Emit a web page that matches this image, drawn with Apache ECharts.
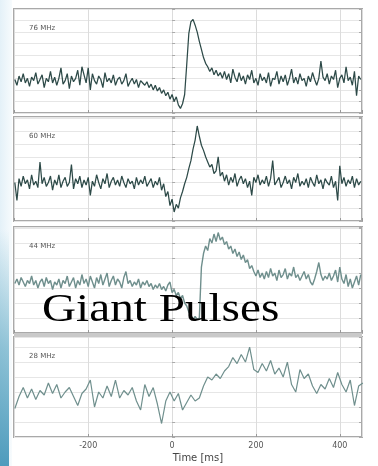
<!DOCTYPE html>
<html>
<head>
<meta charset="utf-8">
<script src="https://cdn.jsdelivr.net/npm/echarts@6/dist/echarts.min.js"></script>
<style>html,body{margin:0;padding:0;background:#fff}#c{width:378px;height:466px}</style>
</head>
<body>
<div id="c"></div>
<script>
// ---- data ----
const panelLabels = ['76 MHz', '60 MHz', '44 MHz', '28 MHz'];
const xTickLabelsShown = [-200, 0, 200, 400];
const timeMin = -377, timeMax = 453;
const sampleStart = -375;
const stepFine = 5;    // ms, panels 1-3
const stepCoarse = 10; // ms, panel 4

const p1Values = [
  2.9, 2.4, 3.2, 2.7, 3.4, 2.6, 3.0, 2.3, 3.1, 2.8,
  3.5, 2.5, 2.9, 3.3, 2.2, 3.0, 2.7, 3.6, 2.6, 3.1,
  2.4, 3.0, 3.9, 2.5, 2.8, 3.4, 2.1, 3.2, 2.7, 3.0,
  3.7, 2.4, 4.0, 3.3, 2.6, 3.9, 2.0, 3.4, 2.8, 2.5,
  3.2, 2.9, 2.2, 3.5, 2.7, 3.0, 2.6, 3.3, 2.4, 2.9,
  3.1, 2.5, 2.8, 3.4, 2.3, 2.7, 3.0, 2.5, 2.9, 2.2,
  2.8, 2.6, 2.4, 2.7, 2.2, 2.5, 2.0, 2.4, 1.9, 2.2,
  1.7, 2.0, 1.5, 1.8, 1.2, 1.6, 1.0, 1.4, 0.7, 0.4,
  0.8, 1.6, 4.2, 6.9, 7.9, 8.1, 7.6, 7.0, 6.2, 5.5,
  4.8, 4.3, 4.0, 3.6, 3.9, 3.3, 3.7, 3.2, 3.5, 3.0,
  3.6, 2.9, 3.4, 2.6, 3.8, 3.1, 2.7, 3.5, 2.8, 3.2,
  2.5, 3.3, 2.9, 3.7, 2.6, 3.0, 2.4, 3.4, 2.8, 3.1,
  2.6, 3.5, 2.3, 3.0, 2.9, 3.6, 2.5, 3.2, 2.7, 3.3,
  2.4, 3.0, 3.8, 2.6, 3.1, 2.5, 3.4, 2.8, 3.0, 2.3,
  3.2, 2.7, 3.5, 2.9, 2.4, 3.0, 4.5, 3.1, 2.8, 3.4,
  2.5, 3.2, 2.9, 3.7, 2.2, 3.0, 3.3, 2.6, 4.0, 2.8,
  3.1, 2.4, 3.6, 1.5, 3.2, 2.9
];
const p2Values = [
  3.0, 1.6, 3.3, 2.7, 3.5, 2.9, 3.2, 2.5, 3.6, 2.8,
  3.1, 2.6, 4.6, 2.9, 3.4, 2.7, 3.0, 3.5, 2.4, 3.2,
  2.8, 3.6, 2.6, 3.1, 3.4, 2.7, 3.0, 4.4, 2.5, 3.3,
  2.9, 3.5, 2.6, 3.2, 2.8, 3.4, 2.0, 3.1, 2.7, 3.6,
  3.0, 2.5, 3.3, 2.9, 3.7, 2.6, 3.1, 3.4, 2.8, 3.2,
  2.7, 3.5, 3.0, 2.6, 3.3, 2.9, 3.1, 2.5, 3.4, 2.8,
  3.2, 2.9, 3.5, 2.7, 3.0, 3.3, 2.6, 3.1, 2.8, 3.4,
  2.4, 2.9, 1.9, 2.3, 1.2, 1.7, 0.7, 1.3, 1.0, 1.8,
  2.3, 2.9, 3.4, 4.1, 4.7, 5.6, 6.3, 7.4, 6.6, 5.9,
  5.5, 5.0, 4.6, 4.2, 4.4, 3.7, 3.9, 5.0, 3.5, 3.8,
  3.1, 3.6, 2.8, 3.4, 3.0, 3.7, 2.7, 3.2, 3.5, 2.9,
  3.3, 2.6, 3.1, 2.0, 3.4, 3.0, 3.6, 2.8, 3.2, 2.9,
  3.5, 2.7, 3.3, 4.7, 2.8, 3.1, 3.4, 2.6, 3.0, 3.5,
  2.9, 3.2, 2.5, 3.4, 3.0, 3.7, 2.7, 3.1, 2.8, 3.3,
  2.6, 3.4, 3.0, 2.7, 3.6, 2.9, 3.2, 2.5, 3.3, 3.0,
  2.8, 3.5, 2.6, 3.1, 1.6, 4.3, 2.9, 3.4, 2.7, 3.2,
  2.9, 3.5, 2.6, 3.3, 2.8, 3.1
];
const p3Values = [
  3.3, 3.6, 3.2, 3.7, 3.4, 3.1, 3.5, 3.3, 3.8, 3.2,
  3.5, 3.0, 3.4, 3.6, 3.1, 3.7, 3.3, 3.5, 2.9, 3.4,
  3.2, 3.6, 3.0, 3.5, 3.3, 3.8, 3.1, 3.4, 3.7, 3.0,
  3.5, 3.2, 3.9, 3.3, 3.6, 3.1, 3.8, 3.4, 3.0, 3.7,
  3.3, 3.9, 3.2, 3.6, 4.0, 3.1, 3.5, 3.8, 3.2, 3.6,
  3.4, 3.0, 3.7, 4.1, 3.3, 3.5, 3.1, 3.4, 3.2, 3.6,
  3.0, 3.4, 3.2, 3.5, 3.1, 3.3, 2.9, 3.2, 3.0, 3.3,
  2.9, 3.1, 2.8, 3.2, 3.4, 2.7, 2.9, 2.5, 2.7, 2.3,
  2.5, 2.0, 1.8, 1.4, 1.2, 0.9, 1.1, 0.9, 1.0, 4.4,
  5.3, 5.8, 5.5, 6.3, 6.0, 6.6, 6.1, 6.7, 6.2, 6.4,
  5.9, 6.1, 5.6, 5.8, 5.3, 5.6, 5.1, 5.4, 4.9, 5.2,
  4.7, 4.9, 4.3, 4.5, 4.1, 3.8, 4.2, 3.7, 4.0, 3.6,
  4.1, 3.7, 4.3, 3.8, 4.0, 3.5, 4.2, 3.7, 3.9, 4.3,
  3.6, 4.0, 3.8, 4.4, 3.7, 3.9, 3.5, 3.8, 4.1, 3.6,
  3.9, 3.4, 3.2, 3.6, 4.1, 4.7, 3.9, 3.5, 3.8, 3.6,
  4.0, 3.5, 3.8, 4.2, 3.4, 4.4, 3.6, 3.3, 3.9, 3.1,
  3.6, 3.0, 3.4, 3.8, 3.2, 3.9
];
const p4Values = [
  1.9, 2.7, 3.3, 2.6, 3.2, 2.5, 3.1, 2.8, 3.6, 2.9,
  3.5, 2.6, 3.0, 3.3, 2.7, 2.1, 2.9, 3.2, 3.8, 2.0,
  3.0, 2.6, 3.4, 2.7, 3.8, 2.6, 3.1, 2.8, 3.3, 2.4,
  1.8, 3.5, 2.7, 3.3, 2.2, 0.9, 2.4, 3.0, 2.4, 2.9,
  1.8, 2.3, 2.8, 2.4, 2.6, 3.4, 4.0, 3.8, 4.2, 3.9,
  4.4, 4.7, 5.3, 4.9, 5.5, 5.0, 6.0, 4.5, 4.3, 4.9,
  4.4, 5.1, 4.2, 4.6, 4.0, 5.0, 3.5, 3.0, 4.5, 3.9,
  4.2, 3.4, 2.9, 3.5, 3.2, 3.9, 3.3, 4.3, 3.5, 3.0,
  3.8, 2.1, 3.4, 3.6
];

// ---- layout ----
const panels = [
  {vals: p1Values, step: stepFine, top: 9, height: 104, ymax: 9, color: '#2d4a48', w: 1.25},
  {vals: p2Values, step: stepFine, top: 117, height: 104, ymax: 8.1, color: '#2d4a48', w: 1.25},
  {vals: p3Values, step: stepFine, top: 227, height: 106, ymax: 7.07, color: '#6f8f8d', w: 1.4},
  {vals: p4Values, step: stepCoarse, top: 337, height: 100, ymax: 6.67, color: '#6f8f8d', w: 1.2}
];
const LEFT = 14, WIDTH = 348;
const font = 'DejaVu Sans';

const grid = [], xAxis = [], yAxis = [], series = [];
panels.forEach((p, k) => {
  grid.push({left: LEFT, top: p.top, width: WIDTH, height: p.height, show: true,
    borderColor: '#a9a9a9', borderWidth: 2, backgroundColor: '#fff'});
  const last = k === panels.length - 1;
  xAxis.push({type: 'value', gridIndex: k, min: timeMin, max: timeMax, splitNumber: 4,
    axisLine: {show: false},
    axisTick: {show: true, inside: true, length: 3, lineStyle: {color: '#999'}},
    splitLine: {show: true, lineStyle: {color: '#dcdcdc', width: 1}},
    axisLabel: {show: last, showMinLabel: false, showMaxLabel: false, fontSize: 8, color: '#555',
      fontFamily: font, margin: 5,
      formatter: v => xTickLabelsShown.includes(v) ? String(v) : ''}
  });
  yAxis.push({type: 'value', gridIndex: k, min: 0, max: p.ymax, interval: 1,
    axisLine: {show: false}, axisLabel: {show: false},
    axisTick: {show: true, inside: true, length: 3, lineStyle: {color: '#aaa'}},
    splitLine: {show: true, lineStyle: {color: '#e6e6e6', width: 1}}
  });
  yAxis.push({type: 'value', gridIndex: k, min: 0, max: p.ymax, interval: 1, position: 'right',
    axisLine: {show: false}, axisLabel: {show: false}, splitLine: {show: false},
    axisTick: {show: true, inside: true, length: 3, lineStyle: {color: '#aaa'}}
  });
  series.push({type: 'line', xAxisIndex: k, yAxisIndex: 2 * k, showSymbol: false, silent: true,
    clip: true, lineStyle: {color: p.color, width: p.w},
    data: p.vals.map((v, i) => [sampleStart + i * p.step, v])});
});

const graphic = [
  {type: 'rect', left: 0, top: 0, z: -1, shape: {width: 12, height: 466},
    style: {fill: new echarts.graphic.LinearGradient(0, 0, 1, 0, [
      {offset: 0, color: '#e4f1f8'}, {offset: 1, color: '#f7fbfd'}])}},
  {type: 'rect', left: 0, top: 230, z: 0, shape: {width: 9, height: 236},
    style: {fill: new echarts.graphic.LinearGradient(0, 0, 0, 1, [
      {offset: 0, color: 'rgba(80,160,190,0)'}, {offset: 0.5, color: 'rgba(80,160,190,0.6)'},
      {offset: 1, color: 'rgba(70,150,185,0.95)'}])}},
  {type: 'rect', left: LEFT, top: 333, z: 10, shape: {width: WIDTH, height: 4},
    style: {fill: '#c9c9c9'}}
];
panels.forEach((p, k) => {
  graphic.push({type: 'text', left: 29, top: p.top + 16, z: 20,
    style: {text: panelLabels[k], fontSize: 7, fill: '#555', fontFamily: font}});
});
graphic.push({type: 'text', x: 198, y: 458, z: 20,
  style: {text: 'Time [ms]', fontSize: 10, fill: '#444', fontFamily: font, align: 'center', verticalAlign: 'middle'}});
graphic.push({type: 'text', x: 42, y: 311, scaleX: 1.21, z: 30,
  style: {text: 'Giant Pulses', fontSize: 39, fill: '#000', fontFamily: 'Liberation Serif',
    align: 'left', verticalAlign: 'middle'}});

const chart = echarts.init(document.getElementById('c'), null, {renderer: 'canvas'});
chart.setOption({animation: false, backgroundColor: '#fff', grid, xAxis, yAxis, series, graphic});
</script>
</body>
</html>
